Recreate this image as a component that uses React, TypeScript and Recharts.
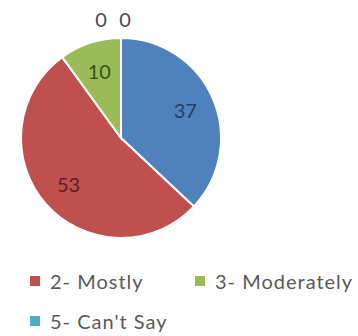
import React from 'react';
import { PieChart, Pie, Cell, Legend } from 'recharts';

// valores
const categories = ['1- Completely', '2- Mostly', '3- Moderately', '4- Slightly', "5- Can't Say"];
const values = [37, 53, 10, 0, 0];
const colors = ['#4F81BD', '#C0504D', '#9BBB59', '#8064A2', '#4BACC6'];
const labelColors = ['#243F66', '#5E1F1D', '#3B5117', '#4A4A4A', '#4A4A4A'];
// itens da legenda que aparecem no recorte
const legendShown = ['2- Mostly', '3- Moderately', "5- Can't Say"];

const data = categories.map((name, i) => ({ name, value: values[i], color: colors[i] }));

const RADIAN = Math.PI / 180;

const renderLabel = (props: any) => {
  const { cx, cy, midAngle, outerRadius, value, index } = props;
  let r = outerRadius * 0.7;
  let dx = 0;
  if (value === 0) {
    r = outerRadius + 19;
    dx = index === 3 ? -20 : 4;
  }
  const x = cx + r * Math.cos(-midAngle * RADIAN) + dx;
  const y = cy + r * Math.sin(-midAngle * RADIAN);
  return (
    <text x={x} y={y} fill={labelColors[index]} fontSize={20} textAnchor="middle" dominantBaseline="central">
      {value}
    </text>
  );
};

const renderLegend = () => (
  <div style={{ display: 'grid', gridTemplateColumns: '165px 163px', rowGap: 16, paddingLeft: 30 }}>
    {legendShown.map((name) => {
      const item = data.find((d) => d.name === name)!;
      return (
        <div key={name} style={{ display: 'flex', alignItems: 'center', color: '#595959', fontSize: 20, lineHeight: '24px', letterSpacing: 1, whiteSpace: 'nowrap' }}>
          <span style={{ width: 10, height: 10, background: item.color, display: 'inline-block', marginRight: 10 }} />
          {name}
        </div>
      );
    })}
  </div>
);

export default function App() {
  return (
    <div style={{ position: 'absolute', left: 0, top: 0, fontFamily: 'Lato, "Open Sans", sans-serif', background: '#fff' }}>
      <PieChart width={358} height={336} margin={{ top: 0, right: 0, bottom: 0, left: 0 }}>
        <Pie
          data={data}
          dataKey="value"
          cx={121}
          cy={138}
          outerRadius={100}
          startAngle={90}
          endAngle={-270}
          stroke="#fff"
          strokeWidth={2}
          labelLine={false}
          label={renderLabel}
          isAnimationActive={false}
        >
          {data.map((entry, index) => (
            <Cell key={`cell-${index}`} fill={entry.color} />
          ))}
        </Pie>
        <Legend content={renderLegend} wrapperStyle={{ left: 0, top: 269, width: 358 }} />
      </PieChart>
    </div>
  );
}
